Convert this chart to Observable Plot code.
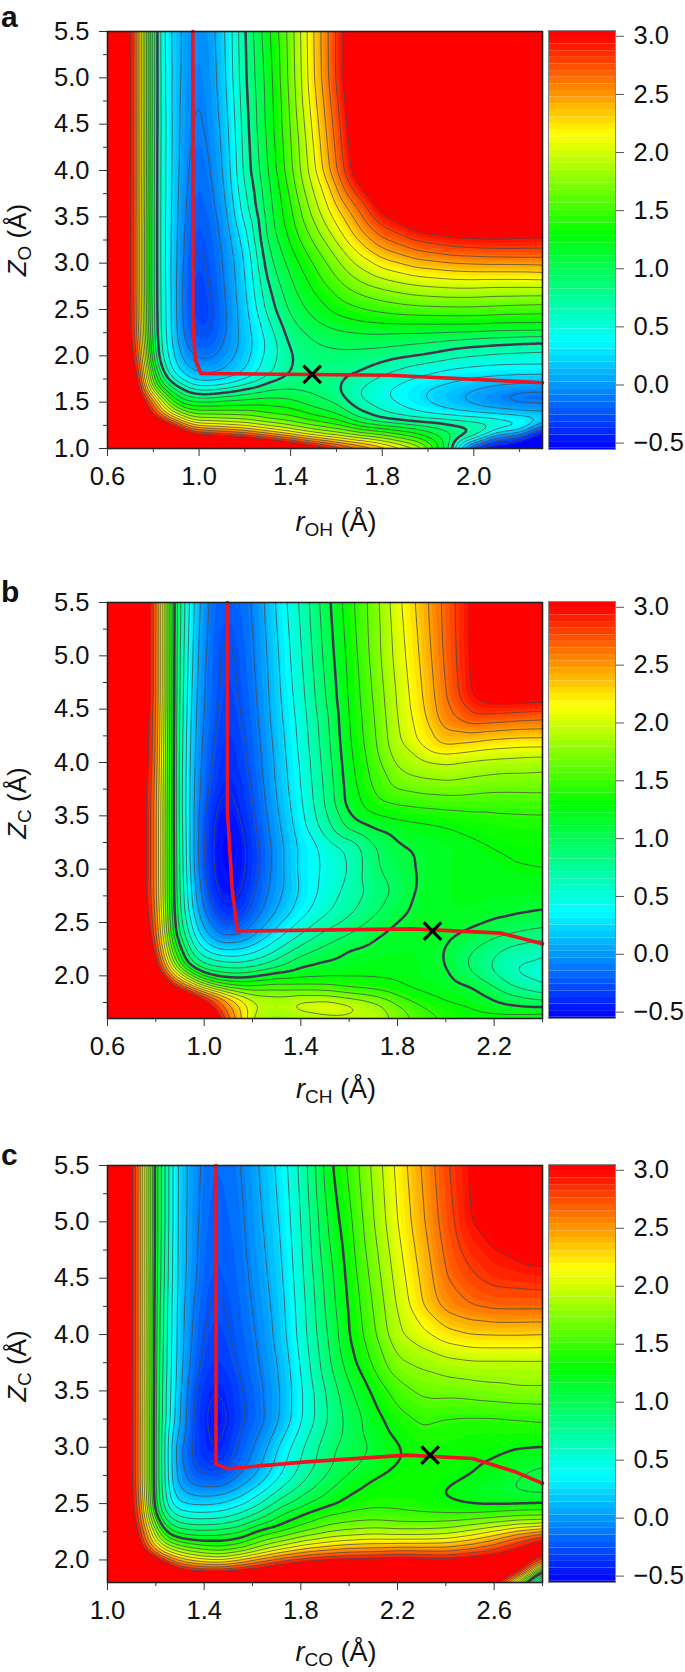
<!DOCTYPE html>
<html><head><meta charset="utf-8">
<script src="https://cdn.jsdelivr.net/npm/d3@7"></script>
<script src="https://cdn.jsdelivr.net/npm/@observablehq/plot@0.6"></script>
<style>
html,body{margin:0;padding:0;background:#fff;}
#page{position:relative;width:685px;height:1672px;overflow:hidden;font-family:"Liberation Sans",Arial,sans-serif;color:#111;}
.letter{position:absolute;font-weight:bold;font-size:30px;line-height:20px;left:1px;}
.xt{position:absolute;font-size:27px;line-height:28px;width:300px;text-align:center;white-space:nowrap;}
.yt{position:absolute;font-size:26px;line-height:28px;width:200px;text-align:center;white-space:nowrap;transform:rotate(-90deg);transform-origin:center;}
sub{font-size:19px;line-height:0;vertical-align:-5px;font-style:normal;}
</style></head><body><div id="page"></div>
<script>
// shared levels and colours
const thinLevels = [3,2.83,2.66,2.49,2.32,2.15,1.98,1.81,1.64,1.47,1.3,1.13,.96,.79,.62,.45,.28,.11,-.06,-.23,-.4];
const colorStops = [-.55,.37,1.3,2.15,3.0];
const colorNames = ["#0000ff","#00ffff","#00ff00","#ffff00","#ff0000"];
const barTicks = [-.5,0,.5,1,1.5,2,2.5,3];

// panel a
const aXs = [.6,.72,.76,.81,.86,.92,.98,1.05,1.12,1.2,1.3,1.4,1.5,1.6,1.7,1.8,1.95,2.1,2.2,2.3,2.4,2.5];
const aZs = [1,1.1,1.2,1.3,1.4,1.5,1.6,1.7,1.8,1.9,2,2.15,2.3,2.5,2.7,2.9,3.1,3.3,3.6,4,4.5,5,5.5];
const aValues = [
[4,4,4,4,4,4,4,4,4,4,3.9,3.7,3.4,3.1,2.8,2.5,2.05,.85,-.55,-.6,-.6,-.6],
[4,4,4,4,4,4,3.5,3.4,3.3,3.2,2.95,2.7,2.4,2.2,2,1.85,1.5,1,.6,-.3,-.55,-.6],
[4,4,4,3.9,3.6,3.05,2.65,2.55,2.5,2.4,2.2,2,1.8,1.65,1.5,1.4,1.2,.95,.85,.6,.5,-.5],
[4,4,3.6,3.2,2.85,2.35,1.95,1.95,1.9,1.85,1.7,1.6,1.45,1.35,1,.82,.72,.68,.62,.58,.5,.42],
[4,4,3.3,2.7,2.1,1.7,1.5,1.5,1.5,1.5,1.4,1.35,1.2,1.05,.82,.62,.42,.28,.22,.17,.13,.1],
[4,3.8,3.1,2.5,1.75,1.2,1.15,1.15,1.2,1.2,1.25,1.2,1.05,.95,.65,.5,.33,.17,.06,-.05,-.12,-.13],
[4,3.5,2.75,1.9,1.35,.95,.72,.72,.82,.93,1,1,.95,.81,.6,.47,.3,.15,.05,-.05,-.12,-.13],
[3.9,3.4,2.4,1.4,.9,.62,.35,.33,.4,.58,.84,.9,.88,.83,.66,.52,.38,.27,.2,.15,.12,.11],
[3.8,3.3,2.3,1.3,.65,.3,.14,.1,.17,.3,.55,.8,.86,.84,.78,.63,.48,.38,.33,.3,.28,.28],
[3.7,3.2,2.2,.95,.55,.18,.02,0,.1,.25,.55,.8,.87,.87,.83,.75,.6,.5,.47,.45,.45,.45],
[3.6,3.1,2.1,.85,.48,.1,-.08,-.1,.04,.2,.5,.78,.9,.92,.9,.87,.8,.68,.62,.58,.56,.55],
[3.5,3.05,1.95,.78,.45,0,-.2,-.2,-.03,.18,.48,.84,.95,1,1.02,1.02,.98,.92,.88,.85,.82,.8],
[3.5,3,1.85,.76,.43,-.03,-.27,-.25,-.06,.2,.55,.9,1.05,1.15,1.2,1.22,1.22,1.22,1.22,1.2,1.2,1.2],
[3.5,3,1.8,.75,.42,-.04,-.31,-.27,-.06,.22,.68,1,1.2,1.35,1.45,1.52,1.58,1.6,1.6,1.58,1.56,1.55],
[3.5,3,1.75,.75,.42,-.04,-.32,-.24,-.04,.25,.75,1.08,1.3,1.52,1.68,1.78,1.88,1.92,1.92,1.9,1.9,1.9],
[3.5,3,1.75,.75,.4,-.03,-.3,-.22,-.02,.27,.85,1.15,1.42,1.68,1.92,2.08,2.22,2.28,2.3,2.3,2.3,2.32],
[3.5,3,1.75,.75,.4,-.01,-.27,-.2,0,.3,.92,1.25,1.55,1.85,2.15,2.4,2.6,2.7,2.72,2.74,2.75,2.75],
[3.5,3,1.75,.75,.4,0,-.25,-.17,.03,.38,1,1.35,1.7,2.05,2.4,2.7,2.93,3.02,3.05,3.05,3.03,3.02],
[3.5,3,1.78,.75,.4,.02,-.2,-.13,.1,.55,1.05,1.45,1.9,2.3,2.7,3.1,3.5,3.7,3.8,3.8,3.8,3.8],
[3.5,3,1.8,.75,.4,.05,-.15,-.08,.17,.68,1.12,1.6,2.1,2.65,3.2,3.6,3.9,4,4,4,4,4],
[3.5,3,1.8,.77,.4,.07,-.1,-.03,.22,.72,1.18,1.65,2.2,2.75,3.3,3.7,4,4,4,4,4,4],
[3.5,3,1.8,.78,.38,.09,-.07,0,.28,.77,1.2,1.7,2.3,2.85,3.4,3.8,4,4,4,4,4,4],
[3.5,3,1.8,.79,.35,.1,-.04,.03,.3,.79,1.25,1.72,2.32,2.85,3.4,3.8,4,4,4,4,4,4]
];
const aPathX = [.973,.973,.983,1.008,1.834,2.5];
const aPathZ = [5.5,2.36,1.97,1.81,1.79,1.71];
const aMark = [1.494,1.8];
const aThick = .79;
const aXTicks = [.6,1,1.4,1.8,2.2];
const aXLabels = ["0.6","1.0","1.4","1.8","2.0"];
const aXMinor = [.8,1.2,1.6,2,2.4];
const aZTicks = [1,1.5,2,2.5,3,3.5,4,4.5,5,5.5];
const aZMinor = [1.25,1.75,2.25,2.75,3.25,3.75,4.25,4.75,5.25];

// panel b
const bXs = [.6,.77,.8,.83,.87,.92,.98,1.04,1.09,1.15,1.22,1.3,1.4,1.5,1.6,1.7,1.8,1.9,2,2.1,2.2,2.3,2.4];
const bZs = [1.6,1.7,1.8,1.9,2,2.1,2.25,2.4,2.6,2.8,3,3.2,3.4,3.6,3.8,4,4.2,4.4,4.6,5,5.5];
const bValues = [
[4,4,4,4,4,4,4,3.4,2.8,2.35,1.85,1.78,1.8,1.85,1.9,1.95,1.75,1.55,1.45,1.4,1.4,1.42,1.45],
[4,4,4,4,4,3.9,3.5,2.95,2.6,2.35,2,1.95,2.12,2.2,2.1,1.95,1.7,1.5,1.38,1.3,1.2,1.15,1.13],
[4,4,4,4,3.9,3.6,3.1,2.75,2.45,2.1,1.9,1.85,1.9,1.88,1.78,1.68,1.5,1.35,1.25,1.2,1.1,.98,.9],
[4,4,4,4,3,2.6,2.1,1.75,1.55,1.5,1.5,1.55,1.52,1.5,1.42,1.38,1.32,1.25,1.2,1.15,.96,.75,.62],
[4,4,3.5,3,2.4,1.95,1.35,1.1,1.05,1.03,1.13,1.22,1.26,1.28,1.28,1.28,1.27,1.22,1.17,1,.8,.6,.55],
[4,3.9,3.05,2.6,1.9,1.2,.85,.75,.7,.68,.75,.9,1.1,1.17,1.22,1.24,1.24,1.22,1.13,.93,.75,.6,.58],
[3.9,3.5,2.8,2.3,1.5,.95,.5,.3,.25,.28,.4,.6,.85,1,1.13,1.18,1.22,1.22,1.12,.98,.83,.72,.65],
[3.8,3.2,2.7,2.15,1.2,.75,.25,-.02,-.14,-.1,.1,.35,.6,.82,.95,1.08,1.18,1.22,1.18,1.1,1.02,.95,.9],
[3.7,3.1,2.6,2.05,1.15,.6,.05,-.25,-.38,-.33,-.12,.12,.37,.58,.75,.92,1.08,1.18,1.22,1.22,1.18,1.15,1.12],
[3.6,3.05,2.55,2,1.13,.55,-.05,-.38,-.47,-.42,-.2,.04,.3,.5,.68,.84,1,1.17,1.22,1.24,1.24,1.24,1.24],
[3.6,3.05,2.55,2,1.13,.52,-.12,-.42,-.52,-.46,-.26,.02,.33,.48,.62,.92,1.05,1.16,1.22,1.24,1.26,1.29,1.3],
[3.6,3.05,2.55,2,1.13,.5,-.15,-.43,-.53,-.47,-.26,.02,.32,.5,.65,.93,1.1,1.16,1.2,1.25,1.3,1.33,1.33],
[3.6,3.05,2.55,2,1.13,.48,-.12,-.42,-.5,-.43,-.22,.06,.38,.72,1.02,1.15,1.22,1.26,1.3,1.35,1.38,1.4,1.4],
[3.6,3.05,2.55,2,1.13,.46,-.1,-.38,-.45,-.38,-.18,.1,.42,.8,1.2,1.4,1.47,1.5,1.52,1.53,1.52,1.52,1.53],
[3.6,3.05,2.6,2.02,1.13,.46,-.08,-.3,-.41,-.35,-.15,.13,.45,.82,1.22,1.5,1.7,1.76,1.78,1.75,1.72,1.72,1.72],
[3.6,3.1,2.65,2.03,1.13,.47,-.06,-.25,-.4,-.3,-.12,.15,.47,.85,1.25,1.55,1.85,1.95,2,1.95,1.92,1.9,1.88],
[3.6,3.1,2.7,2.05,1.13,.48,-.04,-.23,-.36,-.28,-.1,.17,.5,.88,1.28,1.6,1.95,2.2,2.4,2.35,2.28,2.25,2.25],
[3.6,3.12,2.7,2.07,1.13,.5,-.02,-.2,-.32,-.25,-.08,.2,.52,.9,1.3,1.62,1.98,2.25,2.6,2.75,2.72,2.68,2.66],
[3.6,3.15,2.75,2.1,1.13,.52,0,-.18,-.3,-.23,-.06,.22,.55,.95,1.32,1.65,2,2.3,2.65,2.97,3.1,3.1,3.08],
[3.6,3.15,2.75,2.1,1.13,.55,.05,-.18,-.28,-.2,-.03,.25,.6,1,1.35,1.7,2.05,2.35,2.7,3,3.4,3.6,3.6],
[3.6,3.15,2.75,2.1,1.13,.6,.1,-.15,-.2,-.15,0,.3,.65,1.05,1.4,1.72,2.1,2.4,2.72,3,3.4,3.6,3.6]
];
const bPathX = [1.096,1.096,1.116,1.138,1.859,2.23,2.4];
const bPathZ = [5.5,3.55,2.81,2.42,2.44,2.4,2.3];
const bMark = [1.945,2.42];
const bThick = 1.13;
const bXTicks = [.6,1,1.4,1.8,2.2];
const bXLabels = ["0.6","1.0","1.4","1.8","2.2"];
const bXMinor = [.8,1.2,1.6,2,2.4];
const bZTicks = [2,2.5,3,3.5,4,4.5,5,5.5];
const bZMinor = [1.75,2.25,2.75,3.25,3.75,4.25,4.75,5.25];

// panel c
const cXs = [1,1.1,1.14,1.185,1.23,1.28,1.35,1.41,1.47,1.55,1.63,1.72,1.82,1.92,2,2.1,2.2,2.3,2.4,2.5,2.6,2.7,2.8];
const cZs = [1.8,1.9,2,2.1,2.2,2.3,2.4,2.5,2.6,2.7,2.8,2.9,3,3.25,3.5,3.75,4,4.25,4.5,5,5.5];
const cValues = [
[4,4,4,4,4,4,4,4,4,4,4,4,4,4,4,4,4,4,4,3.9,3.2,1.6,0],
[4,4,4,4,3.8,3.2,3,2.95,2.95,3.05,3.15,3.4,3.6,3.7,3.8,3.8,3.8,3.8,3.8,3.7,3.6,3.3,1.2],
[4,4,4,3.3,2.85,2.5,2.25,2.15,2.1,2.3,2.55,2.75,2.9,3,3.03,3.05,3.1,3.05,3,3.1,3.2,3.3,2.9],
[4,3.8,3,2.5,2.1,1.85,1.65,1.55,1.5,1.6,1.85,2.1,2.3,2.4,2.48,2.5,2.55,2.55,2.55,2.65,2.8,3,3.3],
[4,3.5,2.9,2.2,1.55,1.28,1.2,1.18,1.2,1.28,1.5,1.65,1.85,1.98,2.02,2.08,2.05,2.05,2.08,2.2,2.4,2.7,2.95],
[4,3.3,2.75,1.9,1.2,.9,.82,.82,.85,.95,1.18,1.32,1.5,1.65,1.72,1.75,1.72,1.72,1.75,1.85,1.95,2.05,2.1],
[4,3.2,2.65,1.5,.9,.6,.5,.5,.52,.65,.85,1.15,1.33,1.48,1.52,1.55,1.52,1.5,1.5,1.5,1.55,1.6,1.6],
[4,3.15,2.6,1.35,.75,.3,.25,.24,.28,.4,.6,.88,1.1,1.25,1.36,1.42,1.42,1.38,1.33,1.28,1.26,1.27,1.3],
[4,3.12,2.55,1.33,.72,.2,.05,.03,.05,.2,.42,.7,.95,1.15,1.28,1.35,1.37,1.36,1.28,1.22,1.16,1.12,1.1],
[4,3.1,2.5,1.32,.7,.1,-.12,-.15,-.18,.02,.22,.52,.8,1.05,1.2,1.32,1.36,1.37,1.33,1.27,1.2,1.12,1.05],
[4,3.1,2.5,1.32,.7,.1,-.2,-.28,-.28,-.1,.12,.42,.72,.95,1.1,1.22,1.33,1.38,1.36,1.32,1.26,1.16,1.1],
[4,3.1,2.5,1.32,.7,.08,-.25,-.36,-.35,-.16,.05,.38,.68,.93,1.07,1.17,1.28,1.38,1.38,1.33,1.3,1.23,1.2],
[4,3.1,2.5,1.32,.7,.08,-.25,-.4,-.41,-.19,0,.33,.65,.92,1.03,1.15,1.28,1.4,1.38,1.34,1.33,1.31,1.3],
[4,3.1,2.5,1.32,.72,.25,-.23,-.42,-.47,-.27,-.12,.13,.5,.82,1.02,1.22,1.4,1.5,1.46,1.45,1.45,1.47,1.49],
[4,3.1,2.5,1.33,.72,.28,-.2,-.38,-.41,-.25,-.1,.12,.5,.85,1.1,1.33,1.55,1.68,1.7,1.72,1.75,1.78,1.78],
[4,3.1,2.5,1.33,.75,.3,-.12,-.31,-.33,-.2,-.06,.15,.55,.95,1.22,1.5,1.78,1.85,1.92,1.95,1.95,1.95,1.95],
[4,3.1,2.5,1.33,.78,.3,-.08,-.27,-.28,-.17,-.03,.2,.6,1,1.3,1.6,1.95,2.1,2.25,2.32,2.33,2.33,2.32],
[4,3.1,2.5,1.33,.8,.3,-.05,-.24,-.25,-.15,0,.22,.62,1.05,1.32,1.65,2,2.3,2.55,2.65,2.7,2.7,2.7],
[4,3.1,2.5,1.33,.85,.3,0,-.2,-.22,-.13,.03,.25,.65,1.08,1.35,1.7,2.05,2.35,2.65,2.8,2.88,2.9,2.92],
[4,3.1,2.5,1.33,.9,.3,.02,-.16,-.18,-.1,.08,.3,.7,1.18,1.42,1.8,2.15,2.45,2.75,2.98,3.12,3.25,3.3],
[4,3.1,2.5,1.33,.9,.3,.03,-.13,-.15,-.07,.12,.35,.75,1.27,1.5,1.85,2.2,2.5,2.8,3,3.3,3.5,3.6]
];
const cPathX = [1.449,1.449,1.496,1.822,2.238,2.51,2.69,2.8];
const cPathZ = [5.5,2.85,2.81,2.87,2.93,2.9,2.78,2.68];
const cMark = [2.335,2.93];
const cThick = 1.3;
const cXTicks = [1,1.4,1.8,2.2,2.6];
const cXLabels = ["1.0","1.4","1.8","2.2","2.6"];
const cXMinor = [1.2,1.6,2,2.4,2.8];
const cZTicks = [2,2.5,3,3.5,4,4.5,5,5.5];
const cZMinor = [2.25,2.75,3.25,3.75,4.25,4.75,5.25];

const bandStep = 0.057;
const bands = d3.range(-1, 3.2, bandStep);
const colorScale = {type:"linear",domain:colorStops,range:colorNames,clamp:true,interpolate:"rgb"};
const page = document.getElementById("page");
const font = {fontFamily:"'Liberation Sans',Arial,sans-serif",background:"transparent",color:"#111",overflow:"visible"};

function place(node,left,top){node.style.position="absolute";node.style.left=left+"px";node.style.top=top+"px";page.appendChild(node);}
function html(cls,str,style){const d=document.createElement("div");d.className=cls;d.innerHTML=str;Object.assign(d.style,style);page.appendChild(d);}

function panel(p){
  p.values.forEach(r=>{if(r.length!==p.xs.length) throw new Error("row length "+r.length);});
  if(p.values.length!==p.zs.length) throw new Error("rows");
  // The sampling grid runs a little past the frame, so that the contours are
  // open at its edges and the frame clip hides where they would close.
  const dx=(p.xDomain[1]-p.xDomain[0])*.06, dz=(p.zDomain[1]-p.zDomain[0])*.06;
  const xsE=[p.xs[0]-dx,...p.xs,p.xs[p.xs.length-1]+dx];
  const zsE=[p.zs[0]-dz,...p.zs,p.zs[p.zs.length-1]+dz];
  const ci=(i,n)=>Math.max(0,Math.min(n-1,i-1));
  const pts=[];
  zsE.forEach((z,j)=>xsE.forEach((x,i)=>pts.push({x,z,v:p.values[ci(j,p.zs.length)][ci(i,p.xs.length)]})));
  const common={x:"x",y:"z",interpolate:"barycentric",pixelSize:1,blur:p.blur??5,clip:true,
    x1:xsE[0],x2:xsE[xsE.length-1],y1:zsE[0],y2:zsE[zsE.length-1]};
  const h=p.bottom-p.top;
  const plot=Plot.plot({
    width:560,height:h+60,marginLeft:107,marginRight:18,marginTop:10,marginBottom:50,
    style:font,
    x:{domain:p.xDomain,label:null},
    y:{domain:p.zDomain,label:null},
    color:colorScale,
    marks:[
      Plot.contour(pts,{...common,fill:"v",thresholds:bands}),
      Plot.contour(pts,{...common,value:"v",stroke:"#4a4a4a",strokeWidth:.9,strokeOpacity:.85,fill:"none",thresholds:thinLevels}),
      Plot.contour(pts,{...common,value:"v",stroke:"#43334f",strokeWidth:2.5,fill:"none",thresholds:[p.thick]}),
      Plot.line(p.pathX,{x:p.pathX,y:p.pathZ,stroke:"#ee1420",strokeWidth:3.6,strokeLinejoin:"round"}),
      Plot.dot([p.mark],{x:d=>d[0],y:d=>d[1],symbol:"times",r:8,stroke:"#000",strokeWidth:3.2}),
      Plot.frame({stroke:"#222",strokeWidth:1.6}),
      Plot.axisX({ticks:p.xTicks,tickSize:8,tickPadding:10,fontSize:25.5,label:null,tickFormat:(d,i)=>p.xLabels[p.xTicks.indexOf(d)],stroke:"#333",fill:"#111"}),
      Plot.axisX({ticks:p.xMinor,tickSize:4,tickFormat:()=>"",label:null,stroke:"#333"}),
      Plot.axisY({ticks:p.zTicks,tickSize:8,tickPadding:10,fontSize:25.5,label:null,tickFormat:d3.format(".1f"),stroke:"#333",fill:"#111"}),
      Plot.axisY({ticks:p.zMinor,tickSize:4,tickFormat:()=>"",label:null,stroke:"#333"})
    ]
  });
  place(plot,0,p.top-10);
  const bar=Plot.plot({
    width:145,height:p.barBottom-p.barTop+20,marginLeft:8,marginRight:70,marginTop:10,marginBottom:10,
    style:font,
    x:{domain:[0,1],axis:null},
    y:{domain:[-.555,3.05],label:null},
    color:colorScale,
    marks:[
      Plot.rect(bands.filter(b=>b>-.7),{x1:0,x2:1,y1:d=>Math.max(d,-.555),y2:d=>Math.min(d+bandStep,3.05),fill:d=>d+bandStep/2,filter:d=>d<3.05&&d+bandStep>-.555}),
      Plot.frame({stroke:"#888",strokeWidth:1}),
      Plot.axisY({anchor:"right",ticks:barTicks,tickSize:8,tickPadding:10,fontSize:25.5,label:null,tickFormat:d3.format(".1f"),stroke:"#555",fill:"#111"})
    ]
  });
  place(bar,540,p.barTop-10);
  html("letter",p.letter,{top:p.letterTop+"px"});
  html("xt",p.xTitle,{left:(336-150)+"px",top:(p.xTitleBase-22)+"px"});
  html("yt",p.yTitle,{left:(17-100)+"px",top:(p.yTitleMid-14)+"px"});
}

panel({letter:"a",letterTop:7,xs:aXs,zs:aZs,values:aValues,pathX:aPathX,pathZ:aPathZ,mark:aMark,thick:aThick,
  xDomain:[.6,2.5],zDomain:[1,5.5],top:31,bottom:448,barTop:30,barBottom:449,
  xTicks:aXTicks,xLabels:aXLabels,xMinor:aXMinor,zTicks:aZTicks,zMinor:aZMinor,
  xTitle:'<i>r</i><sub>OH</sub> (Å)',yTitle:'<i>Z</i><sub>O</sub> (Å)',xTitleBase:530,yTitleMid:240});
panel({letter:"b",letterTop:582,xs:bXs,zs:bZs,values:bValues,pathX:bPathX,pathZ:bPathZ,mark:bMark,thick:bThick,
  xDomain:[.6,2.4],zDomain:[1.6,5.5],top:602,bottom:1018,barTop:601,barBottom:1018,
  xTicks:bXTicks,xLabels:bXLabels,xMinor:bXMinor,zTicks:bZTicks,zMinor:bZMinor,
  xTitle:'<i>r</i><sub>CH</sub> (Å)',yTitle:'<i>Z</i><sub>C</sub> (Å)',xTitleBase:1097,yTitleMid:803});
panel({letter:"c",letterTop:1145,xs:cXs,zs:cZs,values:cValues,pathX:cPathX,pathZ:cPathZ,mark:cMark,thick:cThick,
  xDomain:[1,2.8],zDomain:[1.8,5.5],top:1165,bottom:1582,barTop:1164,barBottom:1582,
  xTicks:cXTicks,xLabels:cXLabels,xMinor:cXMinor,zTicks:cZTicks,zMinor:cZMinor,
  xTitle:'<i>r</i><sub>CO</sub> (Å)',yTitle:'<i>Z</i><sub>C</sub> (Å)',xTitleBase:1660,yTitleMid:1366});
</script></body></html>
